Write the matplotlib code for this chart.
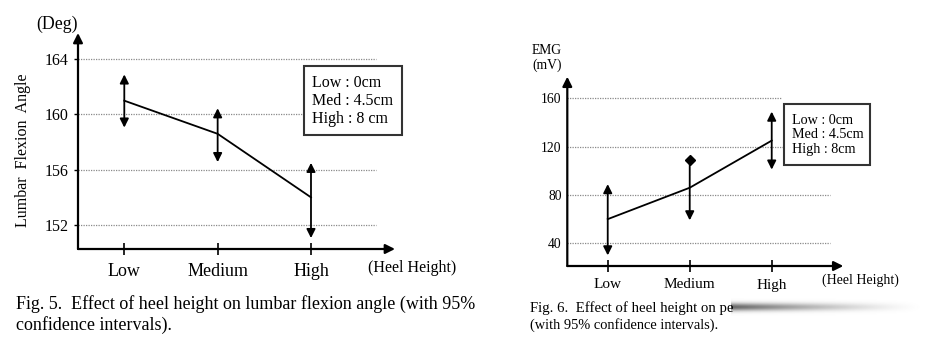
import numpy as np
import matplotlib.pyplot as plt
from matplotlib.patches import Rectangle

plt.rcParams['font.family'] = ['Liberation Serif', 'DejaVu Serif']

# data
categories = ['Low', 'Medium', 'High']

angle_mean = [161.0, 158.6, 154.0]
angle_low = [159.05, 156.55, 151.05]
angle_high = [162.9, 160.45, 156.5]
angle_ticks = [152, 156, 160, 164]

emg_mean = [60, 86, 125]
emg_low = [30, 59, 101]
emg_high = [89, 109, 149]
emg_ticks = [40, 80, 120, 160]

legend_left = ['Low : 0cm', 'Med : 4.5cm', 'High : 8 cm']
legend_right = ['Low : 0cm', 'Med : 4.5cm', 'High : 8cm']

W, H = 948, 360
fig = plt.figure(figsize=(W / 100, H / 100), dpi=100)


def fx(px):
    return px / W


def fy(py):
    return 1 - py / H


def add_axes_px(x0, y0, x1, y1):
    # x0,y0 top-left ; x1,y1 bottom-right in pixels
    return fig.add_axes([fx(x0), fy(y1), (x1 - x0) / W, (y1 - y0) / H])


def setup(ax, xlim, ylim, yticks, tsize, xsize, ypad, xpad, ytl):
    ax.set_xlim(*xlim)
    ax.set_ylim(*ylim)
    for s in ax.spines.values():
        s.set_visible(False)
    ax.set_xticks(range(len(categories)))
    ax.set_xticklabels(categories, fontsize=xsize)
    ax.set_yticks(yticks)
    ax.set_yticklabels([str(t) for t in yticks], fontsize=tsize)
    ax.tick_params(axis='x', direction='inout', length=8, width=1.2, pad=xpad)
    ax.tick_params(axis='y', direction='out', length=ytl, width=1.0, pad=ypad)
    ax.set_facecolor('none')
    arrow = dict(arrowstyle='-|>', lw=1.6, color='black', mutation_scale=14,
                 shrinkA=0, shrinkB=0)
    ax.annotate('', xy=(0, 1), xytext=(0, 0), xycoords='axes fraction',
                arrowprops=arrow, annotation_clip=False)
    ax.annotate('', xy=(1, 0), xytext=(0, 0), xycoords='axes fraction',
                arrowprops=arrow, annotation_clip=False)


def draw_series(ax, mean, low, high, diamond_top=()):
    x = np.arange(len(mean))
    ax.plot(x, mean, color='black', lw=1.3, zorder=3)
    for i in x:
        if i in diamond_top:
            ax.annotate('', xy=(i, low[i]), xytext=(i, high[i]),
                        arrowprops=dict(arrowstyle='-|>', lw=1.3, color='black',
                                        mutation_scale=13, shrinkA=0, shrinkB=0))
            ax.plot([i], [high[i]], marker='D', ms=5, color='black', zorder=4)
        else:
            ax.annotate('', xy=(i, low[i]), xytext=(i, high[i]),
                        arrowprops=dict(arrowstyle='<|-|>', lw=1.3, color='black',
                                        mutation_scale=13, shrinkA=0, shrinkB=0))


grid_style = dict(color='#8a8a8a', lw=0.9, linestyle=(0, (1, 1)), zorder=1)

# ---------------- Fig. 5 ----------------
ax1 = add_axes_px(78, 33, 395, 249)
setup(ax1, (-0.496, 2.90), (150.26, 165.90), angle_ticks, 11.5, 13, 4, 6, 3)
for t in angle_ticks:
    ax1.hlines(t, -0.496, 2.70, **grid_style)
draw_series(ax1, angle_mean, angle_low, angle_high)

fig.add_artist(Rectangle((fx(303.7), fy(135.3)), (401.7 - 303.7) / W, (135.3 - 65.7) / H,
                         transform=fig.transFigure, facecolor='white',
                         edgecolor='#333333', lw=1.5, zorder=5))
fig.text(fx(311.5), fy(101), '\n'.join(legend_left), fontsize=11.5,
         ha='left', va='center', linespacing=1.2, zorder=6)

fig.text(fx(57), fy(24), '(Deg)', fontsize=12.8, ha='center', va='center')
fig.text(fx(23), fy(150), 'Lumbar  Flexion  Angle', fontsize=11.5, rotation=90,
         ha='center', va='center')
fig.text(fx(412.5), fy(268), '(Heel Height)', fontsize=11.5, ha='center', va='center')

fig.text(fx(16), fy(309), 'Fig. 5.  Effect of heel height on lumbar flexion angle (with 95%',
         fontsize=13, ha='left', va='baseline')
fig.text(fx(16), fy(330), 'confidence intervals).', fontsize=13, ha='left', va='baseline')

# ---------------- Fig. 6 ----------------
ax2 = add_axes_px(567.3, 76.7, 843.3, 266)
setup(ax2, (-0.493, 2.873), (21.21, 177.9), emg_ticks, 9.8, 11, 4, 5, 0)
grid_ends = [2.71, 2.71, 2.14, 2.11]
for t, e in zip(emg_ticks, grid_ends):
    ax2.hlines(t, -0.493, e, **grid_style)
draw_series(ax2, emg_mean, emg_low, emg_high, diamond_top=(1,))

fig.add_artist(Rectangle((fx(784.3), fy(165)), (870 - 784.3) / W, (165 - 104) / H,
                         transform=fig.transFigure, facecolor='white',
                         edgecolor='#333333', lw=1.5, zorder=5))
fig.text(fx(791.5), fy(135), '\n'.join(legend_right), fontsize=10.2,
         ha='left', va='center', linespacing=1.2, zorder=6)

fig.text(fx(546.7), fy(51), 'EMG', fontsize=9.8, ha='center', va='center')
fig.text(fx(546.7), fy(65), '(mV)', fontsize=9.8, ha='center', va='center')
fig.text(fx(860), fy(280), '(Heel Height)', fontsize=10, ha='center', va='center')

fig.text(fx(530), fy(312), 'Fig. 6.  Effect of heel height on pe', fontsize=10.6,
         ha='left', va='baseline')
fig.text(fx(530), fy(329), '(with 95% confidence intervals).', fontsize=10.4,
         ha='left', va='baseline')

# blurred-out part of the caption
bax = add_axes_px(731, 298, 946, 316)
bax.axis('off')
gx = np.linspace(0, 1, 200)
gy = np.linspace(-1, 1, 20)
fade = np.clip(1 - gx / 0.9, 0, 1) ** 1.4
band = np.exp(-(gy / 0.45) ** 2)
shade = 1 - 0.6 * band[:, None] * fade[None, :]
bax.imshow(shade, cmap='gray', vmin=0, vmax=1, aspect='auto', interpolation='bilinear')

fig.savefig('out.png', dpi=100, facecolor='white')
